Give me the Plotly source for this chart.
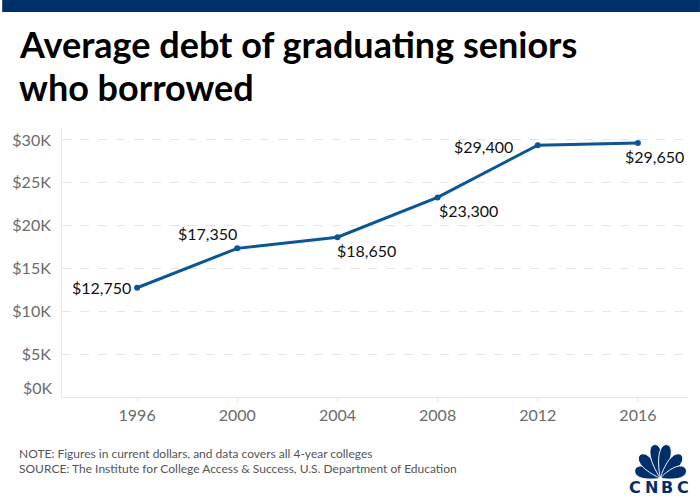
import math
import plotly.graph_objects as go

# ---- data ----
years = [1996, 2000, 2004, 2008, 2012, 2016]
avg_debt = [12750, 17350, 18650, 23300, 29400, 29650]
label_text = ["$12,750", "$17,350", "$18,650", "$23,300", "$29,400", "$29,650"]
y_tick_vals = [5000, 10000, 15000, 20000, 25000, 30000]
y_tick_text = ["$5K", "$10K", "$15K", "$20K", "$25K", "$30K"]
x_tick_vals = [1996, 2000, 2004, 2008, 2012, 2016]
x_tick_text = ["1996", "2000", "2004", "2008", "2012", "2016"]

title_lines = ["Average debt of graduating seniors", "who borrowed"]
note_lines = [
    "NOTE: Figures in current dollars, and data covers all 4-year colleges",
    "SOURCE: The Institute for College Access & Success, U.S. Department of Education",
]

# ---- layout geometry ----
W, H = 700, 500
ML, MR, MT, MB = 60, 12, 128, 103
PW, PH = W - ML - MR, H - MT - MB


def px(x):
    return (x - ML) / PW


def py(y):
    return (H - MB - y) / PH


FONT = "Lato"
NAVY = "rgb(0,48,108)"
LINE = "rgb(10,86,150)"

# label placement (style, not data)
lab_anchor = ["right", "center", "center", "center", "center", "center"]
lab_xshift = [-4, -30, 29, 31, -54, 17]
lab_yshift = [0, 15, -13, -13, -1, -14]

fig = go.Figure()
fig.add_trace(go.Scatter(
    x=years, y=avg_debt, mode="lines+markers",
    line=dict(color=LINE, width=3),
    marker=dict(color=LINE, size=6),
    hoverinfo="skip", showlegend=False,
))

annotations = []
for xv, yv, t, a, xs, ys in zip(years, avg_debt, label_text, lab_anchor, lab_xshift, lab_yshift):
    annotations.append(dict(
        x=xv, y=yv, xref="x", yref="y", text=t, showarrow=False,
        xanchor=a, yanchor="middle", xshift=xs, yshift=ys,
        font=dict(family=FONT, size=16, color="#111111"),
    ))

# $0K label sits slightly above the axis line
annotations.append(dict(
    x=0, y=0, xref="paper", yref="y", text="$0K", showarrow=False,
    xanchor="right", yanchor="middle", xshift=-7, yshift=10,
    font=dict(family=FONT, size=16, color="#6b6b6b"),
))

# title
annotations.append(dict(
    x=px(15), y=py(44), xref="paper", yref="paper", text="<b>" + title_lines[0] + "</b>",
    showarrow=False, xanchor="left", yanchor="middle",
    font=dict(family=FONT, size=36, color="#000000"),
))
annotations.append(dict(
    x=px(15), y=py(87), xref="paper", yref="paper", text="<b>" + title_lines[1] + "</b>",
    showarrow=False, xanchor="left", yanchor="middle",
    font=dict(family=FONT, size=36, color="#000000"),
))

# notes
for i, line in enumerate(note_lines):
    annotations.append(dict(
        x=px(15), y=py(453 + 15 * i), xref="paper", yref="paper", text=line,
        showarrow=False, xanchor="left", yanchor="middle",
        font=dict(family=FONT, size=12, color="#555555"),
    ))

# CNBC wordmark letters
for ch, cx in zip("CNBC", [635, 651, 667, 683]):
    annotations.append(dict(
        x=px(cx), y=py(487), xref="paper", yref="paper", text="<b>" + ch + "</b>",
        showarrow=False, xanchor="center", yanchor="middle",
        font=dict(family="DejaVu Sans", size=16, color=NAVY),
    ))

shapes = []
# top navy bar
shapes.append(dict(type="rect", xref="paper", yref="paper",
                   x0=px(0), x1=px(W), y0=py(12), y1=py(0),
                   fillcolor=NAVY, line=dict(width=0), layer="above"))


# peacock feathers
def feather_path(angle_deg, length, halfw, base=(660.5, 478.0), start=1.0):
    a = math.radians(angle_deg)
    dx, dy = math.cos(a), -math.sin(a)
    nx, ny = -dy, dx
    c = start + length / 2
    pts = []
    n = 48
    for k in range(n):
        t = 2 * math.pi * k / n
        along = (length / 2) * math.cos(t)
        taper = 0.35 + 0.65 * (1 + math.cos(t)) / 2
        perp = halfw * math.sin(t) * taper
        X = base[0] + dx * (c + along) + nx * perp
        Y = base[1] + dy * (c + along) + ny * perp
        pts.append((px(X), py(Y)))
    d = "M " + " L ".join(f"{p[0]:.5f},{p[1]:.5f}" for p in pts) + " Z"
    return d


for ang, ln in zip([162, 132, 101, 79, 48, 18], [26, 30, 33, 33, 30, 26]):
    shapes.append(dict(type="path", xref="paper", yref="paper",
                       path=feather_path(ang, ln, 8.0),
                       fillcolor=NAVY, line=dict(color="white", width=1), layer="above"))

fig.update_layout(
    width=W, height=H,
    margin=dict(l=ML, r=MR, t=MT, b=MB),
    paper_bgcolor="white", plot_bgcolor="white",
    showlegend=False,
    annotations=annotations,
    shapes=shapes,
    xaxis=dict(
        range=[1993, 2018], tickvals=x_tick_vals, ticktext=x_tick_text,
        showgrid=False, zeroline=False, showline=True, linecolor="#e6e6e6", linewidth=1,
        ticks="outside", ticklen=4, tickcolor="#e6e6e6",
        tickfont=dict(family=FONT, size=16, color="#6b6b6b"),
        fixedrange=True,
    ),
    yaxis=dict(
        range=[0, 31400], tickvals=y_tick_vals, ticktext=y_tick_text,
        showgrid=True, gridcolor="#e6e6e6", griddash="dash", gridwidth=1,
        zeroline=False, showline=True, linecolor="#e6e6e6", linewidth=1,
        ticks="", ticklabelstandoff=7,
        tickfont=dict(family=FONT, size=16, color="#6b6b6b"),
        fixedrange=True,
    ),
)

fig.write_html(
    "out.html",
    config={"displayModeBar": False},
    post_script="document.body.style.margin='0';document.body.style.overflow='hidden';",
)
